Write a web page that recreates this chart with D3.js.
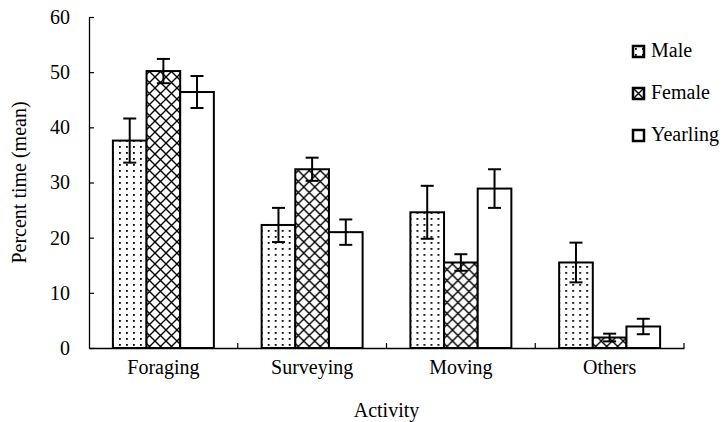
<!DOCTYPE html>
<html>
<head>
<meta charset="utf-8">
<script src="https://cdn.jsdelivr.net/npm/d3@7"></script>
<style>
  body { margin: 0; background: #fff; }
  svg text { font-family: "Liberation Serif", "Times New Roman", "DejaVu Serif", serif; fill: #000; }
</style>
</head>
<body>
<div id="chart"></div>
<script>
// Data
const categories = ["Foraging", "Surveying", "Moving", "Others"];
const groups = ["Male", "Female", "Yearling"];
const maleMean = [37.6, 22.3, 24.6, 15.5];
const maleErr = [4.0, 3.1, 4.8, 3.6];
const femaleMean = [50.2, 32.4, 15.5, 1.9];
const femaleErr = [2.2, 2.1, 1.5, 0.7];
const yearlingMean = [46.4, 21.0, 28.9, 3.9];
const yearlingErr = [2.9, 2.3, 3.5, 1.4];
const yTicks = [0, 10, 20, 30, 40, 50, 60];

const series = [
  { key: "Male", mean: maleMean, err: maleErr, fill: "url(#dots)" },
  { key: "Female", mean: femaleMean, err: femaleErr, fill: "url(#cross)" },
  { key: "Yearling", mean: yearlingMean, err: yearlingErr, fill: "#fff" },
];

const width = 725, height = 422;
const margin = { top: 17, right: 41, bottom: 74, left: 89 };
const fontSize = 20;

const svg = d3.select("#chart").append("svg")
  .attr("width", width).attr("height", height);

// Patterns
const defs = svg.append("defs");
const dots = defs.append("pattern")
  .attr("id", "dots").attr("patternUnits", "userSpaceOnUse")
  .attr("width", 14).attr("height", 12);
dots.append("rect").attr("width", 14).attr("height", 12).attr("fill", "#fff");
[[2, 2], [9, 2], [2, 8], [9, 8]].forEach(([x, y]) =>
  dots.append("rect").attr("x", x).attr("y", y).attr("width", 1.8).attr("height", 1.8).attr("fill", "#000"));

const cross = defs.append("pattern")
  .attr("id", "cross").attr("patternUnits", "userSpaceOnUse")
  .attr("width", 11).attr("height", 11);
cross.append("rect").attr("width", 11).attr("height", 11).attr("fill", "#fff");
cross.append("path").attr("d", "M0,0L11,11M11,0L0,11M-1,1L1,-1M10,12L12,10")
  .attr("stroke", "#000").attr("stroke-width", 1.4).attr("fill", "none");

// Scales
const x0 = d3.scaleBand().domain(categories)
  .range([margin.left, width - margin.right]).padding(0);
const x1 = d3.scaleBand().domain(groups)
  .range([0, x0.bandwidth()]).paddingInner(0).paddingOuter(0.71);
const y = d3.scaleLinear().domain([0, 60]).range([height - margin.bottom, margin.top]);

// Bars
const gGroup = svg.append("g").selectAll("g")
  .data(categories).join("g")
  .attr("transform", (d) => `translate(${x0(d)},0)`);

series.forEach((s) => {
  gGroup.append("rect")
    .attr("x", x1(s.key))
    .attr("y", (d, i) => y(s.mean[i]))
    .attr("width", x1.bandwidth())
    .attr("height", (d, i) => y(0) - y(s.mean[i]))
    .attr("fill", s.fill)
    .attr("stroke", "#000")
    .attr("stroke-width", 2);
});

// Error bars
const cap = 6.5;
series.forEach((s) => {
  const cx = x1(s.key) + x1.bandwidth() / 2;
  const eb = gGroup.append("g").attr("stroke", "#000").attr("stroke-width", 2);
  eb.append("line")
    .attr("x1", cx).attr("x2", cx)
    .attr("y1", (d, i) => y(s.mean[i] + s.err[i]))
    .attr("y2", (d, i) => y(s.mean[i] - s.err[i]));
  eb.append("line")
    .attr("x1", cx - cap).attr("x2", cx + cap)
    .attr("y1", (d, i) => y(s.mean[i] + s.err[i]))
    .attr("y2", (d, i) => y(s.mean[i] + s.err[i]));
  eb.append("line")
    .attr("x1", cx - cap).attr("x2", cx + cap)
    .attr("y1", (d, i) => y(s.mean[i] - s.err[i]))
    .attr("y2", (d, i) => y(s.mean[i] - s.err[i]));
});

// Y axis
const gY = svg.append("g")
  .attr("transform", `translate(${margin.left},0)`)
  .call(d3.axisLeft(y).tickValues(yTicks).tickSize(-5).tickPadding(19).tickSizeOuter(0));
gY.attr("font-family", null).attr("font-size", fontSize);
gY.select(".domain").attr("stroke-width", 1.3);
gY.selectAll(".tick line").attr("stroke-width", 1.2);

// X axis
const gX = svg.append("g")
  .attr("transform", `translate(0,${y(0)})`)
  .call(d3.axisBottom(x0).tickSize(0).tickPadding(12));
gX.attr("font-family", null).attr("font-size", fontSize);
gX.select(".domain").attr("stroke-width", 1.3);
gX.selectAll(".bound")
  .data(categories).join("line")
  .attr("class", "bound")
  .attr("x1", (d) => x0(d) + x0.bandwidth()).attr("x2", (d) => x0(d) + x0.bandwidth())
  .attr("y1", 0).attr("y2", -5)
  .attr("stroke", "#000").attr("stroke-width", 1.2);

// Axis titles
svg.append("text")
  .attr("transform", `translate(26,${(y(0) + y(60)) / 2}) rotate(-90)`)
  .attr("text-anchor", "middle")
  .attr("font-size", fontSize)
  .text("Percent time (mean)");
svg.append("text")
  .attr("x", (margin.left + width - margin.right) / 2)
  .attr("y", 417)
  .attr("text-anchor", "middle")
  .attr("font-size", fontSize)
  .text("Activity");

// Legend
const legend = svg.append("g").selectAll("g")
  .data(series).join("g")
  .attr("transform", (d, i) => `translate(633,${46 + i * 42})`);
legend.append("rect")
  .attr("width", 11).attr("height", 11)
  .attr("fill", (d) => d.fill)
  .attr("stroke", "#000").attr("stroke-width", 2.5);
legend.append("text")
  .attr("x", 18).attr("y", 11)
  .attr("font-size", fontSize)
  .text((d) => d.key);
</script>
</body>
</html>
